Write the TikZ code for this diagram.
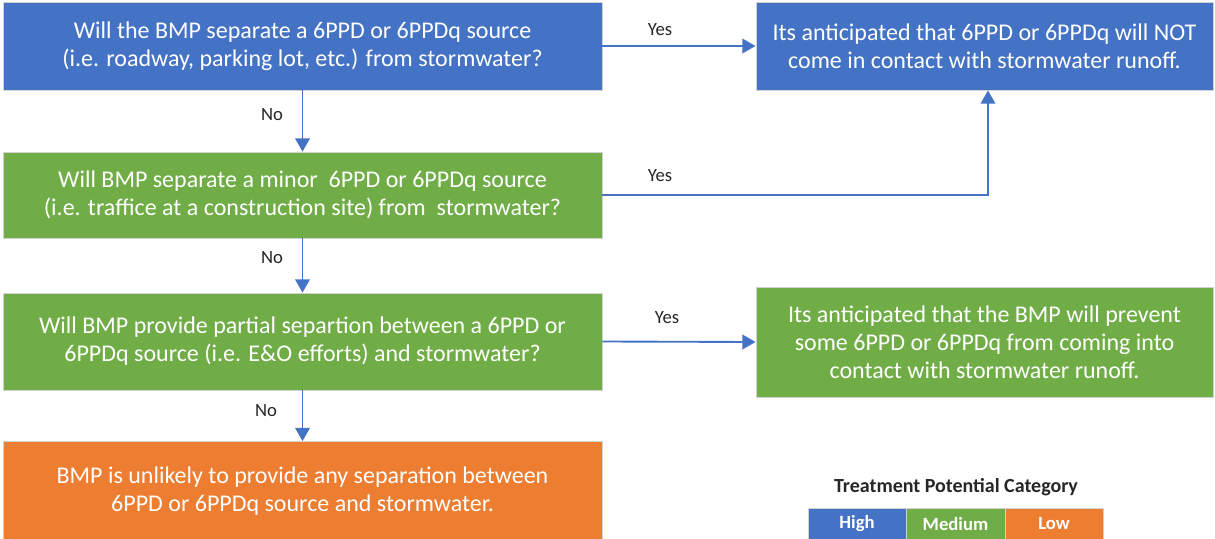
\documentclass[tikz,border=0pt]{standalone}
\usepackage{fontspec}
\setmainfont{Carlito}
\usetikzlibrary{arrows.meta,calc}
\definecolor{cblue}{HTML}{4472C4}
\definecolor{cgreen}{HTML}{70AD47}
\definecolor{corange}{HTML}{ED7D31}
\definecolor{ctext}{HTML}{262626}
\tikzset{
  box/.style={draw=gray!35,line width=0.6pt,text=white,align=center,inner sep=0pt,
    font=\fontsize{18}{21}\selectfont},
  conn/.style={draw=cblue,line width=1.4pt,-{Triangle[width=11pt,length=10pt]}},
  lbl/.style={text=ctext,font=\fontsize{14}{16}\selectfont},
  cell/.style={draw=gray!35,line width=0.6pt,text=white,inner sep=0pt,minimum height=24pt,
    font=\bfseries\fontsize{14}{16}\selectfont}
}
\begin{document}
\begin{tikzpicture}[x=0.75pt,y=-0.75pt]
\useasboundingbox (0,0) rectangle (1215,539);
\node[box,fill=cblue,minimum width=449.25pt,minimum height=66pt] (b1) at (302.5,46)
  {Will the BMP separate a 6PPD or 6PPDq source\\(i.e. roadway, parking lot, etc.) from stormwater?};
\node[box,fill=cgreen,minimum width=449.25pt,minimum height=64.5pt] (b2) at (302.5,195)
  {Will BMP separate a minor\ \ 6PPD or 6PPDq source\\(i.e. traffice at a construction site) from\ \ stormwater?};
\node[box,fill=cgreen,minimum width=449.25pt,minimum height=72.75pt] (b3) at (302.5,341.5)
  {Will BMP provide partial separtion between a 6PPD or\\6PPDq source (i.e. E\&O efforts) and stormwater?};
\node[box,fill=corange,minimum width=449.25pt,minimum height=74.25pt] (b4) at (302.5,491)
  {BMP is unlikely to provide any separation between\\6PPD or 6PPDq source and stormwater.};
\node[box,fill=cblue,minimum width=342.75pt,minimum height=66pt] (r1) at (984.5,46)
  {Its anticipated that 6PPD or 6PPDq will NOT\\come in contact with stormwater runoff.};
\node[box,fill=cgreen,minimum width=342.75pt,minimum height=82.5pt] (r2) at (984.5,342)
  {Its anticipated that the BMP will prevent\\some 6PPD or 6PPDq from coming into\\contact with stormwater runoff.};
% legend
\node[text=ctext,font=\bfseries\fontsize{15}{17}\selectfont] (lt) at (956,487) {Treatment Potential Category};
\node[cell,fill=cblue,minimum width=73.5pt] (lh) at (857,524) {High};
\node[cell,fill=cgreen,minimum width=74.25pt] (lm) at (955.5,524) {Medium};
\node[cell,fill=corange,minimum width=73.5pt] (ll) at (1054,524) {Low};
% connectors
\coordinate (r1in) at ($(r1.south)+(3.5,0)$);
\draw[conn] (b1.east) -- (r1.west);
\draw[conn] (b2.east) -| (r1in);
\draw[conn] (b3.east) -- (r2.west);
\draw[conn] (b1.south) -- (b2.north);
\draw[conn] (b2.south) -- (b3.north);
\draw[conn] (b3.south) -- (b4.north);
% labels
\node[lbl] (y1) at (660,30) {Yes};
\node[lbl] (y2) at (660,176) {Yes};
\node[lbl] (y3) at (667,318) {Yes};
\node[lbl] (n1) at (272,115) {No};
\node[lbl] (n2) at (272,258) {No};
\node[lbl] (n3) at (266,411) {No};
\end{tikzpicture}
\end{document}
